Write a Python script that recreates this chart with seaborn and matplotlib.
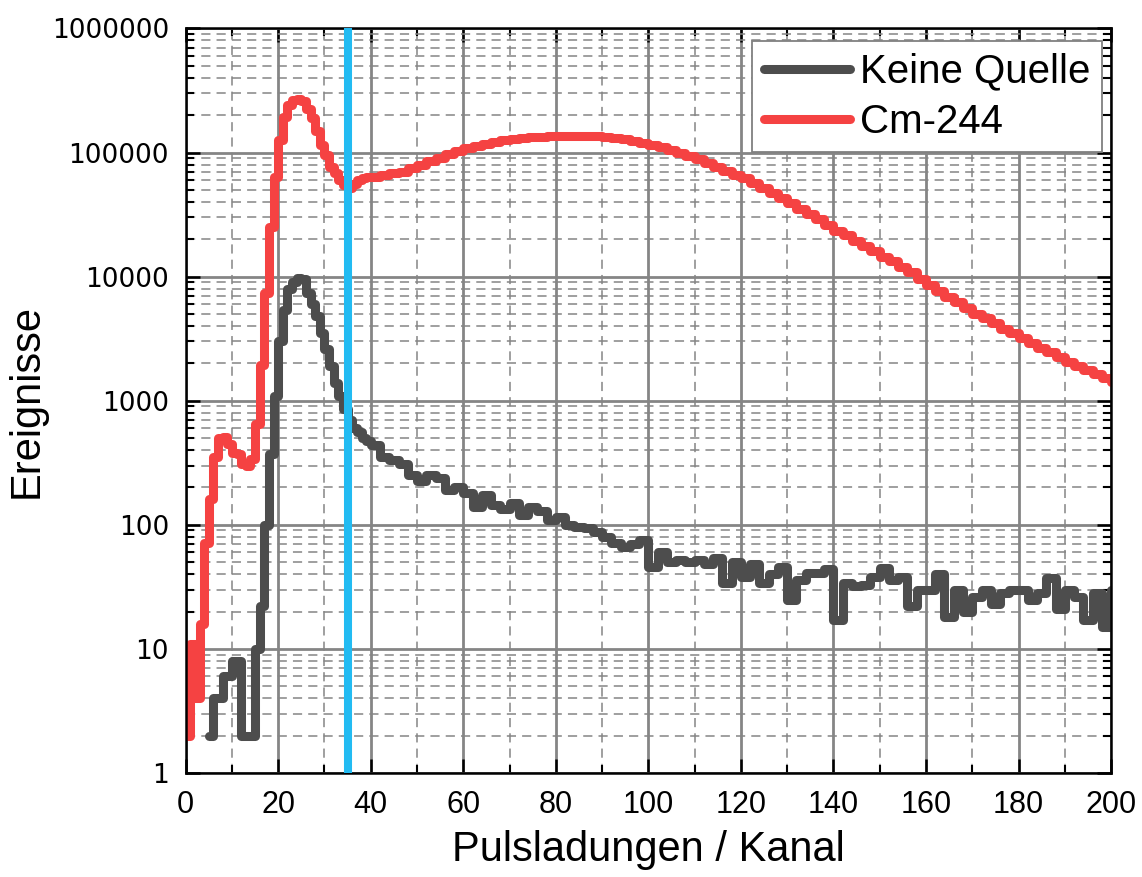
import numpy as np
import pandas as pd
import matplotlib
matplotlib.use("Agg")
import matplotlib.pyplot as plt
import matplotlib.ticker as mticker
import seaborn as sns

# ---------------- data ----------------
channels = list(range(0, 40)) + list(range(40, 201, 2))

keine_quelle = [
    np.nan, np.nan, np.nan, np.nan, np.nan, 2, 4, 4, 6, 6,
    8, 8, 2, 2, 2, 10, 22, 100, 370, 1100,
    3000, 5400, 8000, 9000, 9800, 9500, 7400, 6000, 4800, 3500,
    2600, 1900, 1400, 1100, 850, 700, 600, 560, 500, 470,
    # 40 .. 200 step 2
    440, 350, 330, 310, 250, 225, 250, 240, 190, 200,
    180, 140, 175, 145, 135, 150, 120, 140, 128, 110,
    115, 100, 96, 94, 88, 80, 72, 66, 70, 75,
    46, 60, 50, 52, 50, 52, 48, 54, 34, 50,
    38, 48, 34, 40, 46, 25, 36, 41, 41, 44,
    17, 34, 32, 33, 38, 45, 36, 38, 22, 30,
    30, 40, 18, 30, 20, 26, 30, 23, 28, 30,
    30, 25, 28, 37, 21, 30, 26, 17, 28, 15,
    30,
]

cm244 = [
    2, 11, 4, 16, 72, 160, 350, 500, 510, 450,
    380, 370, 310, 300, 340, 650, 1950, 7400, 25000, 64000,
    127000, 195000, 240000, 265000, 270000, 260000, 225000, 190000, 150000, 115000,
    95000, 77000, 68000, 60000, 55000, 52000, 56000, 60000, 62000, 63000,
    # 40 .. 200 step 2
    64000, 66000, 68000, 70000, 75000, 80000, 86000, 91000, 97000, 103000,
    108000, 113000, 117000, 121000, 125000, 128000, 131000, 133000, 134000, 135000,
    136000, 137000, 137000, 136000, 135000, 133000, 131000, 128000, 124000, 120000,
    116000, 111000, 105000, 99000, 94000, 88000, 82000, 77000, 71000, 66000,
    62000, 57000, 52000, 47000, 43000, 39000, 35000, 32000, 29000, 26000,
    23500, 21500, 19500, 17500, 16000, 14500, 13300, 12000, 10800, 9600,
    8500, 7600, 6900, 6200, 5600, 5000, 4600, 4200, 3800, 3500,
    3200, 2900, 2650, 2450, 2250, 2050, 1900, 1780, 1650, 1520,
    1420,
]

series_names = ["Keine Quelle", "Cm-244"]
series_colors = ["#4d4d4d", "#f54242"]
cut_channel = 35

x_ticks = [0, 20, 40, 60, 80, 100, 120, 140, 160, 180, 200]
y_ticks = [1, 10, 100, 1000, 10000, 100000, 1000000]
y_tick_labels = ["1", "10", "100", "1000", "10000", "100000", "1000000"]

df = pd.concat([
    pd.DataFrame({"Kanal": channels, "Ereignisse": keine_quelle, "Serie": series_names[0]}),
    pd.DataFrame({"Kanal": channels, "Ereignisse": cm244, "Serie": series_names[1]}),
]).dropna()

# ---------------- plot ----------------
sns.set_theme(style="white")
plt.rcParams["font.family"] = ["Liberation Sans", "DejaVu Sans"]
plt.rcParams["text.color"] = "black"
plt.rcParams["axes.labelcolor"] = "black"

fig = plt.figure(figsize=(11.42, 8.77), dpi=100)
ax = fig.add_axes([0.1626, 0.1186, 0.8103, 0.849])

sns.lineplot(data=df, x="Kanal", y="Ereignisse", hue="Serie",
             hue_order=series_names, palette=dict(zip(series_names, series_colors)),
             estimator=None, sort=True, drawstyle="steps-post",
             linewidth=6.5, ax=ax, legend=True,
             solid_joinstyle="round", solid_capstyle="round")

ax.axvline(cut_channel, color="#22bbf2", linewidth=5.8, zorder=5)

ax.set_yscale("log")
ax.set_xlim(0, 200)
ax.set_ylim(1, 1000000)

ax.set_xticks(x_ticks)
ax.set_xticks(list(range(10, 200, 20)), minor=True)
ax.yaxis.set_major_locator(mticker.FixedLocator(y_ticks))
ax.yaxis.set_major_formatter(mticker.FixedFormatter(y_tick_labels))
ax.yaxis.set_minor_locator(mticker.LogLocator(base=10, subs=np.arange(2, 10), numticks=50))
ax.yaxis.set_minor_formatter(mticker.NullFormatter())

ax.grid(True, which="major", color="#858585", linewidth=2.0, linestyle="-")
ax.grid(True, which="minor", color="#858585", linewidth=1.1, linestyle=(0, (6, 4)))
ax.set_axisbelow(True)

ax.tick_params(which="both", direction="in", top=True, right=True, bottom=True, left=True,
               color="black", labelcolor="black")
ax.tick_params(which="major", length=10, width=1.8)
ax.tick_params(which="minor", length=6, width=1.5)
ax.tick_params(axis="x", which="major", labelsize=22, pad=12)
ax.tick_params(axis="y", which="major", labelsize=19, pad=12)
for lab in ax.get_yticklabels():
    lab.set_fontfamily("DejaVu Sans")
for lab in ax.get_xticklabels():
    lab.set_fontfamily("Liberation Sans")

for sp in ax.spines.values():
    sp.set_color("black")
    sp.set_linewidth(1.8)
    sp.set_visible(True)

ax.set_xlabel("Pulsladungen / Kanal", fontsize=30)
ax.set_ylabel("Ereignisse", fontsize=30)
ax.xaxis.set_label_coords(0.5, -0.077)
ax.yaxis.set_label_coords(-0.150, 0.5)

handles, labels = ax.get_legend_handles_labels()
leg = ax.legend(handles, labels, loc="upper right", bbox_to_anchor=(0.9903, 0.9825),
                fontsize=29, frameon=True,
                fancybox=False, edgecolor="#808080", framealpha=1,
                handlelength=2.15, handletextpad=0.25, borderpad=0.28,
                labelspacing=0.3, borderaxespad=0.0)
leg.get_frame().set_linewidth(1.3)
for h in leg.get_lines():
    h.set_linewidth(6.5)
    h.set_solid_capstyle("round")

fig.savefig("out.png", dpi=100)
